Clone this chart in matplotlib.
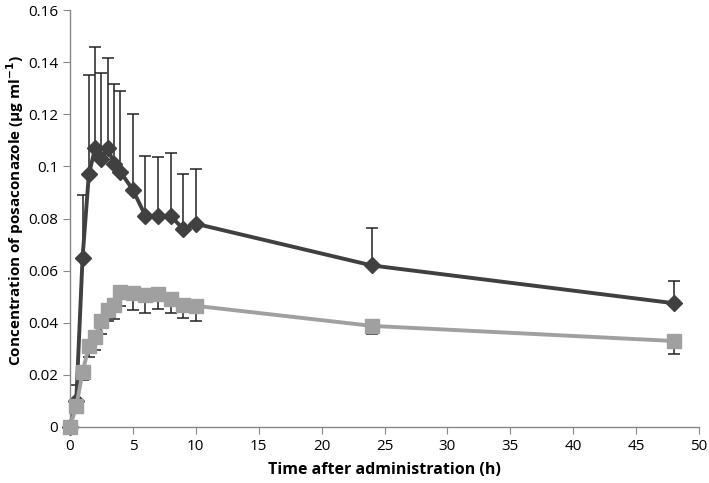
import numpy as np
import matplotlib
matplotlib.use("Agg")
import matplotlib.pyplot as plt
from matplotlib.ticker import FuncFormatter

# sampling times (h)
time_h = [0, 0.5, 1, 1.5, 2, 2.5, 3, 3.5, 4, 5, 6, 7, 8, 9, 10, 24, 48]

# dark series (diamonds) - mean and upper error bar top
dark_mean = [0, 0.010, 0.065, 0.097, 0.107, 0.103, 0.107, 0.101, 0.098, 0.091,
             0.081, 0.081, 0.081, 0.076, 0.078, 0.062, 0.0475]
dark_top = [0, 0.016, 0.089, 0.135, 0.146, 0.136, 0.1415, 0.1315, 0.129, 0.120,
            0.104, 0.1035, 0.105, 0.097, 0.099, 0.0765, 0.056]

# light series (squares) - mean and lower error bar bottom
light_mean = [0, 0.008, 0.021, 0.031, 0.0345, 0.0405, 0.045, 0.047, 0.052, 0.0515,
              0.0505, 0.051, 0.049, 0.047, 0.0465, 0.0388, 0.033]
light_bottom = [0, 0.008, 0.018, 0.027, 0.0296, 0.0357, 0.0405, 0.0415, 0.0465, 0.045,
                0.0438, 0.0451, 0.0436, 0.042, 0.0408, 0.0358, 0.0282]

plt.rcParams['font.family'] = ['Open Sans', 'DejaVu Sans']

fig = plt.figure(figsize=(7.09, 4.83), dpi=100)
ax = fig.add_axes([0.0987, 0.116, 0.8873, 0.863])

t = np.array(time_h)
dm = np.array(dark_mean)
lm = np.array(light_mean)
dark_err = np.array(dark_top) - dm
light_err = lm - np.array(light_bottom)

# error bars first so the markers sit on top
ax.errorbar(t, dm, yerr=[np.zeros_like(dm), dark_err], fmt='none', ecolor='#222222',
            elinewidth=1.1, capsize=4, capthick=1.1, zorder=1)
ax.errorbar(t, lm, yerr=[light_err, np.zeros_like(lm)], fmt='none', ecolor='#222222',
            elinewidth=1.1, capsize=4, capthick=1.1, zorder=1)

ax.plot(t, dm, color='#404040', linewidth=2.8, marker='D', markersize=8.5,
        markerfacecolor='#404040', markeredgecolor='#404040', zorder=2, clip_on=False)
ax.plot(t, lm, color='#a0a0a0', linewidth=2.8, marker='s', markersize=10,
        markerfacecolor='#a0a0a0', markeredgecolor='#a0a0a0', zorder=3, clip_on=False)

ax.set_xlim(0, 50)
ax.set_ylim(0, 0.16)
ax.set_xticks(np.arange(0, 51, 5))
ax.set_yticks(np.arange(0, 0.161, 0.02))
ax.yaxis.set_major_formatter(FuncFormatter(lambda v, p: f"{v:g}"))

for side in ['top', 'right']:
    ax.spines[side].set_visible(False)
for side in ['left', 'bottom']:
    ax.spines[side].set_color('#888888')
    ax.spines[side].set_linewidth(1.0)
ax.tick_params(axis='both', colors='#888888', labelcolor='black', labelsize=11,
               length=5, direction='out')

ax.set_xlabel("Time after administration (h)", fontsize=11.5, fontweight='bold', labelpad=6)
ax.set_ylabel("Concentration of posaconazole (\u03bcg ml$^{\\mathbf{\u22121}}$)",
              fontsize=11, fontweight='bold')
ax.yaxis.set_label_coords(-0.07, 0.52)

fig.savefig("out.png", dpi=100)
